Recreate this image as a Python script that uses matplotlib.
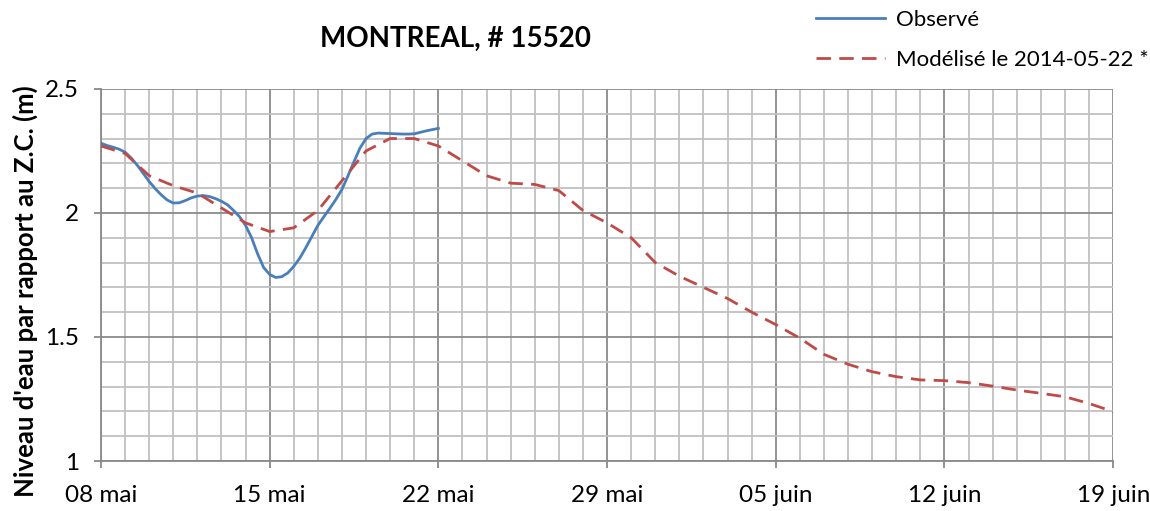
import pandas as pd
import matplotlib
matplotlib.use("Agg")
import matplotlib.pyplot as plt
import matplotlib.dates as mdates

plt.rcParams['font.family'] = ['Lato', 'DejaVu Sans']

### Data
obs_start = "2014-05-08"
# observed water level, every 6 h
obs_vals = [2.281, 2.272, 2.265, 2.257, 2.245, 2.222, 2.193, 2.160, 2.127, 2.098,
            2.073, 2.052, 2.040, 2.041, 2.050, 2.061, 2.068, 2.070, 2.066, 2.058,
            2.047, 2.033, 2.010, 1.985, 1.950, 1.900, 1.835, 1.780, 1.752, 1.740,
            1.743, 1.758, 1.785, 1.818, 1.860, 1.905, 1.950, 1.985, 2.019, 2.055,
            2.095, 2.150, 2.207, 2.262, 2.300, 2.318, 2.322, 2.321, 2.320, 2.319,
            2.318, 2.318, 2.319, 2.325, 2.331, 2.336, 2.341]

# modelled water level, daily
mod_vals = [2.27, 2.24, 2.15, 2.11, 2.08, 2.02, 1.96, 1.925, 1.94, 2.01,
            2.13, 2.25, 2.30, 2.30, 2.27, 2.21, 2.15, 2.12, 2.115, 2.09,
            2.01, 1.96, 1.90, 1.80, 1.745, 1.70, 1.655, 1.60, 1.55, 1.495,
            1.43, 1.39, 1.36, 1.34, 1.327, 1.324, 1.316, 1.302, 1.286, 1.273,
            1.259, 1.232, 1.199]

tick_dates = ["2014-05-08", "2014-05-15", "2014-05-22", "2014-05-29",
              "2014-06-05", "2014-06-12", "2014-06-19"]
tick_labels = ["08 mai", "15 mai", "22 mai", "29 mai", "05 juin", "12 juin", "19 juin"]

obs_dates = pd.date_range(obs_start, periods=len(obs_vals), freq="6h")
mod_dates = pd.date_range(obs_start, periods=len(mod_vals), freq="D")

###Figure
fig = plt.figure(figsize=(11.5, 5.11), dpi=100)
ax = fig.add_axes([0.0878, 0.0978, 0.8802, 0.7282])

ax.plot(obs_dates, obs_vals, color='#4a7ebb', lw=2.0, label='Observé', zorder=3)
ax.plot(mod_dates, mod_vals, color='#be4b48', lw=2.0, ls=(0, (5.2, 3)),
        label='Modélisé le 2014-05-22 *', zorder=3)

ax.set_xlim(pd.Timestamp(tick_dates[0]), pd.Timestamp(tick_dates[-1]))
ax.set_ylim(1, 2.5)

ax.set_xticks(pd.to_datetime(tick_dates))
ax.set_xticklabels(tick_labels)
ax.xaxis.set_minor_locator(mdates.DayLocator())
ax.set_yticks([1, 1.5, 2, 2.5])
ax.set_yticklabels(["1", "1.5", "2", "2.5"])
ax.set_yticks([1 + 0.1 * i for i in range(16)], minor=True)

ax.grid(which='minor', color='#c0c0c0', lw=1.3, zorder=0)
ax.grid(which='major', color='#8a8a8a', lw=1.3, zorder=1)
ax.tick_params(which='major', labelsize=17.5, color='#8a8a8a', length=5, width=1.3)
ax.tick_params(axis='x', which='major', pad=12)
ax.tick_params(axis='y', which='major', pad=11)
ax.tick_params(which='minor', length=0)
for s in ax.spines.values():
    s.set_color('#8a8a8a')
    s.set_linewidth(1.3)
ax.spines['top'].set_visible(False)
ax.spines['right'].set_visible(False)

ax.set_ylabel("Niveau d'eau par rapport au Z.C. (m)", fontsize=18.5, fontweight='bold', va='center')
ax.yaxis.set_label_coords(-0.075, 0.457)
fig.text(0.396, 0.924, "MONTREAL, # 15520", fontsize=20, fontweight='bold',
         ha='center', va='center')

fig.legend(loc='upper left', bbox_to_anchor=(0.692, 1.02), frameon=False,
           fontsize=16, handlelength=3.1, labelspacing=0.9, handletextpad=0.5)

fig.savefig("out.png", dpi=100)
